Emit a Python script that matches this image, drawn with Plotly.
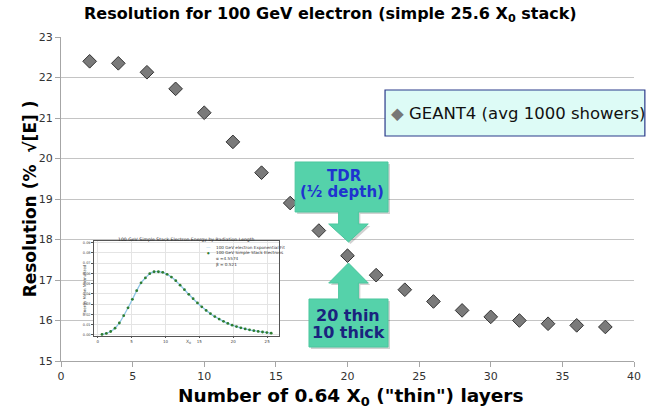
import plotly.graph_objects as go

# ---------------- data ----------------
layers = [2, 4, 6, 8, 10, 12, 14, 16, 18, 20, 22, 24, 26, 28, 30, 32, 34, 36, 38]
resolution = [22.40, 22.35, 22.13, 21.72, 21.13, 20.41, 19.65, 18.9, 18.22, 17.6,
              17.12, 16.76, 16.47, 16.25, 16.09, 16.0, 15.92, 15.88, 15.84]

x_ticks = [0, 5, 10, 15, 20, 25, 30, 35, 40]
y_ticks = [15, 16, 17, 18, 19, 20, 21, 22, 23]

# inset: energy deposited per radiation length
inset_x0 = [0.64, 1.28, 1.92, 2.56, 3.2, 3.84, 4.48, 5.12, 5.76, 6.4,
            7.04, 7.68, 8.32, 8.96, 9.6, 10.24, 10.88, 11.52, 12.16, 12.8,
            13.44, 14.08, 14.72, 15.36, 16.0, 16.64, 17.28, 17.92, 18.56, 19.2,
            19.84, 20.48, 21.12, 21.76, 22.4, 23.04, 23.68, 24.32, 24.96, 25.6]
inset_e = [0.0003, 0.0013, 0.0032, 0.0064, 0.0115, 0.0186, 0.0263, 0.0346, 0.0430, 0.0507,
           0.0555, 0.0596, 0.0615, 0.0615, 0.0609, 0.0590, 0.0563, 0.0528, 0.0484, 0.0440,
           0.0395, 0.0352, 0.0311, 0.0273, 0.0238, 0.0206, 0.0178, 0.0153, 0.0131, 0.0111,
           0.0094, 0.0080, 0.0068, 0.0057, 0.0048, 0.0040, 0.0033, 0.0027, 0.0021, 0.0016]
inset_xticks = [0, 5, 10, 15, 20, 25]
inset_yticks = [0.0, 0.01, 0.02, 0.03, 0.04, 0.05, 0.06, 0.07, 0.08, 0.09]

# ---------------- layout geometry ----------------
W, H = 648, 411
L, R, T, B = 61, 641, 37, 361
PW, PH = R - L, B - T


def px(x):
    return (x - L) / PW


def py(y):
    return (B - y) / PH


def path(pts):
    s = "M" + " L".join(f"{px(a):.4f},{py(b):.4f}" for a, b in pts) + " Z"
    return s


FONT = "Verdana, DejaVu Sans, sans-serif"

fig = go.Figure()

fig.add_trace(go.Scatter(
    x=layers, y=resolution, mode="markers",
    marker=dict(symbol="diamond", size=10.5, color="#7a7a7a",
                line=dict(color="#333333", width=1)),
    showlegend=False, xaxis="x", yaxis="y", cliponaxis=False))

# inset traces
fig.add_trace(go.Scatter(
    x=inset_x0, y=inset_e, mode="lines", line=dict(color="#8ec6e6", width=1.3, shape="spline"),
    showlegend=False, xaxis="x2", yaxis="y2"))
fig.add_trace(go.Scatter(
    x=inset_x0, y=inset_e, mode="markers", marker=dict(color="#2e7d32", size=2.8),
    showlegend=False, xaxis="x2", yaxis="y2"))

shapes = []
# white background for inset picture (above main grid, below everything else)
shapes.append(dict(type="rect", xref="paper", yref="paper",
                   x0=px(66), x1=px(287), y0=py(346), y1=py(242),
                   fillcolor="white", line=dict(width=0), layer="between"))

# legend box
shapes.append(dict(type="rect", xref="paper", yref="paper",
                   x0=px(389), x1=px(652), y0=py(136), y1=py(90),
                   fillcolor="#ddfbf6", line=dict(color="#2a3a8a", width=1.2), layer="above"))

# arrows (shadow then body)
tdr = [(298, 162), (392, 162), (392, 212), (362, 212), (362, 224), (372, 224), (352, 242),
       (332, 224), (342, 224), (342, 212), (298, 212)]
up = [(352, 263), (372, 283), (362, 283), (362, 299), (392, 299), (392, 347), (312, 347),
      (312, 299), (342, 299), (342, 283), (332, 283)]
for pts in (tdr, up):
    shapes.append(dict(type="path", xref="paper", yref="paper",
                       path=path([(a + 2, b + 2) for a, b in pts]),
                       fillcolor="rgba(0,0,0,0.18)", line=dict(width=0), layer="above"))
    shapes.append(dict(type="path", xref="paper", yref="paper", path=path(pts),
                       fillcolor="#55d2aa", line=dict(color="#4cc79f", width=1), layer="above"))

annotations = []


def ann(text, x, y, size, color="#000", bold=False, angle=0, xanchor="center", family=FONT):
    t = f"<b>{text}</b>" if bold else text
    annotations.append(dict(text=t, x=px(x), y=py(y), xref="paper", yref="paper",
                            showarrow=False, xanchor=xanchor, yanchor="middle",
                            textangle=angle, font=dict(size=size, color=color, family=family)))


ann("Resolution for 100 GeV electron (simple 25.6 X<sub>0</sub> stack)", 334, 15, 16, bold=True)
ann("Number of 0.64 X<sub>0</sub> (\"thin\") layers", 354, 397, 18.5, bold=True)
ann("Resolution (%  √[E] )", 30, 199, 17, bold=True, angle=-90)
ann("<span style='color:#777'>◆</span> GEANT4 (avg 1000 showers)", 393, 114, 16.5,
    color="#111", xanchor="left")
ann("TDR", 348, 176, 15, color="#1f33d0", bold=True)
ann("(½ depth)", 345, 192, 15, color="#1f33d0", bold=True)
ann("20 thin", 352, 315, 16, color="#1a237e", bold=True)
ann("10 thick", 352, 332, 16, color="#1a237e", bold=True)

# inset texts
ann("100 GeV Simple Stack Electron Energy by Radiation Length", 188, 239, 4.6, color="#333")
ann("Energy Mean Normalized", 84, 289, 4, color="#444", angle=-90)
ann("X<sub>0</sub>", 190, 342, 4.5, color="#444")
ann("100 GeV electron Exponential Fit", 216, 247, 4.2, color="#333", xanchor="left")
ann("100 GeV Simple Stack Electrons", 216, 252.7, 4.2, color="#333", xanchor="left")
ann("α =4.5574", 216, 258.3, 4.2, color="#333", xanchor="left")
ann("β = 0.521", 216, 264, 4.2, color="#333", xanchor="left")
ann("<span style='color:#8ec6e6'>—</span>", 210, 247, 4.5, color="#8ec6e6")
ann("●", 210.5, 252.7, 3, color="#2e7d32")

fig.update_layout(
    width=W, height=H,
    margin=dict(l=L, r=W - R, t=T, b=H - B, pad=0),
    paper_bgcolor="white", plot_bgcolor="white",
    showlegend=False,
    shapes=shapes, annotations=annotations,
    xaxis=dict(range=[0, 40], tickvals=x_ticks, showgrid=False, zeroline=False,
               showline=True, linecolor="#a6a6a6", linewidth=1, ticks="outside",
               ticklen=5, tickcolor="#a6a6a6", ticklabeloverflow="allow",
               tickfont=dict(size=11, color="#333", family=FONT), domain=[0, 1]),
    yaxis=dict(range=[15, 23], tickvals=y_ticks, showgrid=True, gridcolor="#c4c4c4",
               gridwidth=1.2, zeroline=False, showline=True, linecolor="#a6a6a6",
               linewidth=1, ticks="outside", ticklen=5, tickcolor="#a6a6a6",
               tickfont=dict(size=11, color="#333", family=FONT), domain=[0, 1]),
    xaxis2=dict(domain=[px(94), px(282)], anchor="y2", range=[-0.6, 26.8],
                tickvals=inset_xticks, showgrid=True, gridcolor="#e4e4e4", gridwidth=0.6,
                zeroline=False, showline=True, mirror=True, linecolor="#555", linewidth=0.6,
                ticks="outside", ticklen=1.5, tickcolor="#555",
                tickfont=dict(size=4, color="#444", family=FONT)),
    yaxis2=dict(domain=[py(336), py(241)], anchor="x2", range=[-0.0012, 0.0915],
                tickvals=inset_yticks, tickformat=".2f", showgrid=True, gridcolor="#e4e4e4",
                gridwidth=0.6, zeroline=False, showline=True, mirror=True, linecolor="#555",
                linewidth=0.6, ticks="outside", ticklen=1.5, tickcolor="#555",
                tickfont=dict(size=3.5, color="#444", family=FONT)),
)

fig.write_html("out.html")
